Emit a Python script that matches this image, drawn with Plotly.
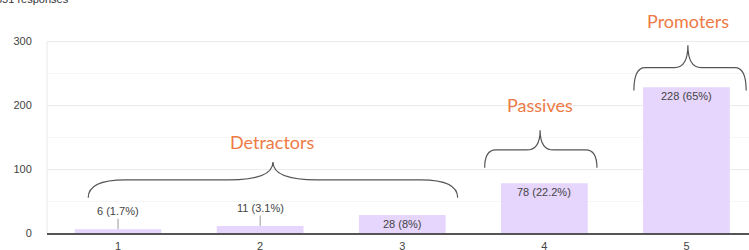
import plotly.graph_objects as go

categories = [1, 2, 3, 4, 5]
counts = [6, 11, 28, 78, 228]
percents = ["1.7%", "3.1%", "8%", "22.2%", "65%"]
label_outside = [True, True, False, False, False]

groups = ["Detractors", "Passives", "Promoters"]
group_start = [0.79, 3.58, 4.63]
group_end = [3.39, 4.37, 5.42]
group_mid = [2.09, 3.97, 5.01]
group_end_y = [55, 102, 223]
group_flat_y = [83, 130, 259]
group_peak_y = [111, 161, 294]
group_label_y = [142, 200, 332]

y_ticks = [0, 100, 200, 300]
y_minor = [50, 150, 250]

total_text = "351 responses"

BAR = "#E6D5FC"
ORANGE = "#EE7A45"
TXT = "#444444"
FONT = "Liberation Sans, Arial"

fig = go.Figure()
fig.add_trace(go.Bar(x=categories, y=counts, marker_color=BAR, marker_line_width=0,
                     width=0.61, hoverinfo="skip"))

for c, v, p, out in zip(categories, counts, percents, label_outside):
    txt = f"{v} ({p})"
    if out:
        fig.add_annotation(x=c, y=v, text=txt, showarrow=True, arrowhead=0, arrowwidth=1,
                           arrowcolor="#999999", ax=0, ay=-18, standoff=0,
                           font=dict(family=FONT, size=11, color=TXT))
    else:
        fig.add_annotation(x=c, y=v, text=txt, showarrow=False, yanchor="top", yshift=-1,
                           font=dict(family=FONT, size=11, color=TXT))

for name, x0, x1, xm, ye, yf, yp, yl in zip(groups, group_start, group_end, group_mid,
                                             group_end_y, group_flat_y, group_peak_y, group_label_y):
    r = (x1 - x0) * 0.1
    r2 = (x1 - x0) * 0.12
    path = (f"M {x0},{ye} Q {x0},{yf} {x0 + r},{yf} L {xm - r2},{yf} "
            f"Q {xm},{yf} {xm},{yp} Q {xm},{yf} {xm + r2},{yf} L {x1 - r},{yf} "
            f"Q {x1},{yf} {x1},{ye}")
    fig.add_shape(type="path", path=path, xref="x", yref="y",
                  line=dict(color="#555555", width=1.2))
    fig.add_annotation(x=xm, y=yl, text=name, showarrow=False, yanchor="middle",
                       font=dict(family="Lato", size=18, color=ORANGE))

# faint vertical axis line up to the top gridline
fig.add_shape(type="line", xref="paper", yref="y", x0=0, x1=0, y0=0, y1=y_ticks[-1],
              line=dict(color="#e8e8e8", width=1), layer="below")

fig.add_annotation(xref="paper", yref="paper", x=0, y=1, xanchor="left", yanchor="middle",
                   xshift=-53, yshift=4, text=total_text, showarrow=False,
                   font=dict(family=FONT, size=11, color="#333333"))

fig.update_layout(
    width=749, height=250,
    margin=dict(l=47, r=0, t=3, b=17),
    paper_bgcolor="white", plot_bgcolor="white",
    showlegend=False,
    xaxis=dict(range=[0.5, 5.44], tickvals=categories, showgrid=False, automargin=False,
               showline=True, linecolor="#555555", linewidth=1.5,
               ticks="outside", ticklen=2, tickcolor="rgba(0,0,0,0)",
               tickfont=dict(family=FONT, size=11, color=TXT)),
    yaxis=dict(range=[0, 360], tickvals=y_ticks, showgrid=True, gridcolor="#ebebeb",
               minor=dict(tickvals=y_minor, showgrid=True, gridcolor="#f5f5f5"),
               zeroline=False, showline=False, automargin=False,
               ticks="outside", ticklen=12, tickcolor="rgba(0,0,0,0)",
               tickfont=dict(family=FONT, size=11, color=TXT)),
)

fig.write_html("out.html", config={"displayModeBar": False},
               post_script="document.body.style.margin='0';")
